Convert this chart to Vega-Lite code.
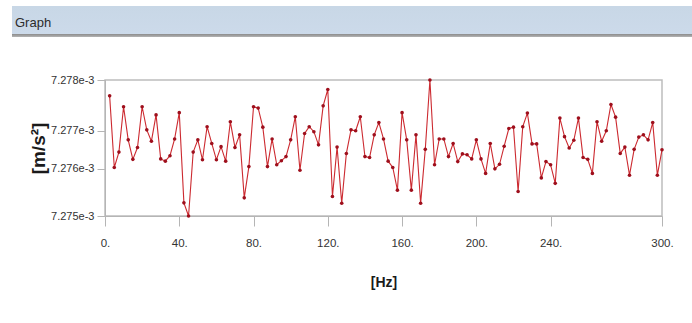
{
  "$schema": "https://vega.github.io/schema/vega-lite/v6.json",
  "padding": {"left": 12, "top": 6, "right": 0, "bottom": 0},
  "background": "white",
  "spacing": 43,
  "center": true,
  "bounds": "flush",
  "config": {
    "font": "Liberation Sans",
    "view": {"stroke": "#bdbdbd", "strokeWidth": 1.5}
  },
  "datasets": {
    "spectrum": [
      {"f": 2.5, "a": 0.00727765}, {"f": 5, "a": 0.00727607}, {"f": 7.5, "a": 0.00727641}, {"f": 10, "a": 0.00727741},
      {"f": 12.5, "a": 0.00727668}, {"f": 15, "a": 0.00727625}, {"f": 17.5, "a": 0.00727651}, {"f": 20, "a": 0.00727741},
      {"f": 22.5, "a": 0.0072769}, {"f": 25, "a": 0.00727665}, {"f": 27.5, "a": 0.00727723}, {"f": 30, "a": 0.00727626},
      {"f": 32.5, "a": 0.00727621}, {"f": 35, "a": 0.00727633}, {"f": 37.5, "a": 0.0072767}, {"f": 40, "a": 0.00727728},
      {"f": 42.5, "a": 0.00727529}, {"f": 45, "a": 0.007275}, {"f": 47.5, "a": 0.00727641}, {"f": 50, "a": 0.00727668},
      {"f": 52.5, "a": 0.00727624}, {"f": 55, "a": 0.00727697}, {"f": 57.5, "a": 0.0072766}, {"f": 60, "a": 0.00727624},
      {"f": 62.5, "a": 0.00727653}, {"f": 65, "a": 0.00727621}, {"f": 67.5, "a": 0.00727708}, {"f": 70, "a": 0.00727651},
      {"f": 72.5, "a": 0.00727679}, {"f": 75, "a": 0.0072754}, {"f": 77.5, "a": 0.00727609}, {"f": 80, "a": 0.00727741},
      {"f": 82.5, "a": 0.00727738}, {"f": 85, "a": 0.00727696}, {"f": 87.5, "a": 0.00727609}, {"f": 90, "a": 0.0072767},
      {"f": 92.5, "a": 0.00727613}, {"f": 95, "a": 0.00727622}, {"f": 97.5, "a": 0.00727631}, {"f": 100, "a": 0.00727668},
      {"f": 102.5, "a": 0.00727719}, {"f": 105, "a": 0.00727601}, {"f": 107.5, "a": 0.00727682}, {"f": 110, "a": 0.00727697},
      {"f": 112.5, "a": 0.00727686}, {"f": 115, "a": 0.00727657}, {"f": 117.5, "a": 0.00727743}, {"f": 120, "a": 0.00727779},
      {"f": 122.5, "a": 0.00727543}, {"f": 125, "a": 0.00727652}, {"f": 127.5, "a": 0.00727528}, {"f": 130, "a": 0.00727638},
      {"f": 132.5, "a": 0.0072769}, {"f": 135, "a": 0.00727688}, {"f": 137.5, "a": 0.00727719}, {"f": 140, "a": 0.00727631},
      {"f": 142.5, "a": 0.00727629}, {"f": 145, "a": 0.00727679}, {"f": 147.5, "a": 0.00727706}, {"f": 150, "a": 0.0072767},
      {"f": 152.5, "a": 0.00727621}, {"f": 155, "a": 0.00727607}, {"f": 157.5, "a": 0.00727557}, {"f": 160, "a": 0.00727728},
      {"f": 162.5, "a": 0.00727668}, {"f": 165, "a": 0.00727557}, {"f": 167.5, "a": 0.00727679}, {"f": 170, "a": 0.00727528},
      {"f": 172.5, "a": 0.00727647}, {"f": 175, "a": 0.007278}, {"f": 177.5, "a": 0.00727613}, {"f": 180, "a": 0.0072767},
      {"f": 182.5, "a": 0.0072767}, {"f": 185, "a": 0.00727631}, {"f": 187.5, "a": 0.0072766}, {"f": 190, "a": 0.0072762},
      {"f": 192.5, "a": 0.00727637}, {"f": 195, "a": 0.00727635}, {"f": 197.5, "a": 0.00727626}, {"f": 200, "a": 0.00727668},
      {"f": 202.5, "a": 0.00727626}, {"f": 205, "a": 0.00727594}, {"f": 207.5, "a": 0.0072766}, {"f": 210, "a": 0.00727604},
      {"f": 212.5, "a": 0.00727614}, {"f": 215, "a": 0.00727654}, {"f": 217.5, "a": 0.00727693}, {"f": 220, "a": 0.00727696},
      {"f": 222.5, "a": 0.00727554}, {"f": 225, "a": 0.00727697}, {"f": 227.5, "a": 0.00727727}, {"f": 230, "a": 0.00727659},
      {"f": 232.5, "a": 0.00727659}, {"f": 235, "a": 0.00727584}, {"f": 237.5, "a": 0.0072762}, {"f": 240, "a": 0.00727613},
      {"f": 242.5, "a": 0.00727572}, {"f": 245, "a": 0.00727716}, {"f": 247.5, "a": 0.00727675}, {"f": 250, "a": 0.0072765},
      {"f": 252.5, "a": 0.00727667}, {"f": 255, "a": 0.00727716}, {"f": 257.5, "a": 0.00727629}, {"f": 260, "a": 0.00727625},
      {"f": 262.5, "a": 0.00727594}, {"f": 265, "a": 0.00727708}, {"f": 267.5, "a": 0.00727665}, {"f": 270, "a": 0.00727688},
      {"f": 272.5, "a": 0.00727746}, {"f": 275, "a": 0.00727718}, {"f": 277.5, "a": 0.00727638}, {"f": 280, "a": 0.00727652},
      {"f": 282.5, "a": 0.0072759}, {"f": 285, "a": 0.00727647}, {"f": 287.5, "a": 0.00727674}, {"f": 290, "a": 0.00727679},
      {"f": 292.5, "a": 0.00727668}, {"f": 295, "a": 0.00727706}, {"f": 297.5, "a": 0.0072759}, {"f": 300, "a": 0.00727646}
    ]
  },
  "vconcat": [
    {
      "width": 743,
      "height": 31,
      "data": {"values": [{"label": "Graph"}]},
      "view": {"stroke": null},
      "title": {
        "text": "Graph",
        "anchor": "start",
        "orient": "top",
        "offset": 0,
        "baseline": "alphabetic",
        "dx": 3,
        "dy": 34,
        "fontSize": 13,
        "fontWeight": "normal",
        "color": "#2b2b2b",
        "font": "Liberation Sans"
      },
      "mark": {
        "type": "rect",
        "color": {
          "gradient": "linear",
          "x1": 0, "y1": 0, "x2": 0, "y2": 1,
          "stops": [
            {"offset": 0, "color": "#c8d7e6"},
            {"offset": 0.9, "color": "#ccdaea"},
            {"offset": 0.91, "color": "#8e8e8e"},
            {"offset": 1, "color": "#b4b4b4"}
          ]
        }
      },
      "encoding": {}
    },
    {
      "width": 557,
      "height": 136,
      "data": {"name": "spectrum"},
      "mark": {
        "type": "line",
        "color": "#cc2a30",
        "strokeWidth": 1.1,
        "point": {"filled": true, "color": "#9e0f1c", "size": 13}
      },
      "encoding": {
        "x": {
          "field": "f",
          "type": "quantitative",
          "scale": {"domain": [0, 300], "nice": false, "zero": false},
          "axis": {
            "values": [0, 40, 80, 120, 160, 200, 240, 300],
            "labelExpr": "datum.label + '.'",
            "grid": false,
            "title": "[Hz]",
            "titleFontSize": 14,
            "titleFontWeight": "bold",
            "titleColor": "#1a1a1a",
            "titlePadding": 27,
            "labelFontSize": 11.5,
            "labelColor": "#333333",
            "labelPadding": 11,
            "tickSize": 10,
            "tickColor": "#b5b5b5",
            "domainColor": "#b5b5b5",
            "labelFlush": false
          }
        },
        "y": {
          "field": "a",
          "type": "quantitative",
          "scale": {"domain": [0.007275, 0.007278], "nice": false, "zero": false},
          "axis": {
            "values": [0.007275, 0.00727604, 0.00727688, 0.007278],
            "format": ".3e",
            "grid": false,
            "title": "[m/s²]",
            "titleFontSize": 19,
            "titleFontWeight": "bold",
            "titleColor": "#1a1a1a",
            "titlePadding": 2,
            "labelFontSize": 11,
            "labelColor": "#333333",
            "labelPadding": 3,
            "tickSize": 8,
            "tickColor": "#b5b5b5",
            "domainColor": "#b5b5b5"
          }
        }
      }
    }
  ]
}
